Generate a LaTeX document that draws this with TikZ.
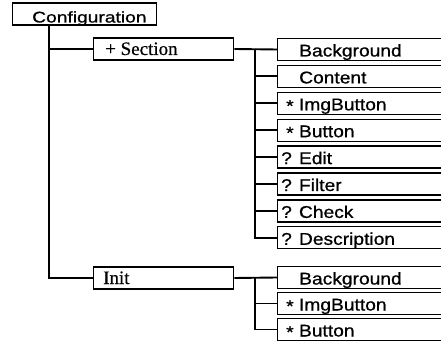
\documentclass[tikz,border=0pt]{standalone}
\usepackage{fontspec}
\setmainfont{Liberation Serif}[FakeBold=0.5]
\newfontfamily\kidfont[FakeStretch=1.13,FakeBold=0.8]{Liberation Sans}
\newfontfamily\conffont[FakeStretch=1.24,FakeBold=0.8]{Liberation Sans}
\newcommand{\bul}{\raisebox{-1.5pt}{*}}
\tikzset{
  box/.style={draw, line width=1.3pt, inner sep=0pt, anchor=west,
              minimum height=22pt},
  topbox/.style={box, minimum width=144pt},
  midbox/.style={box, minimum width=140pt},
  kid/.style={box, minimum width=190pt},
  conn/.style={line width=1.9pt},
  kidlab/.style={anchor=base west, inner sep=0pt,
                 font=\kidfont\fontsize{17}{19}\selectfont},
  serlab/.style={anchor=base west, inner sep=0pt,
                 font=\fontsize{19}{21}\selectfont},
  conflab/.style={anchor=base west, inner sep=0pt,
                  font=\conffont\fontsize{15.5}{18}\selectfont},
}
\begin{document}
\begin{tikzpicture}[x=1pt, y=-1pt]
\useasboundingbox (0,0) rectangle (441,344);
\clip (0,0) rectangle (441,344);

% root
\node[topbox] (conf) at (12,14) {};
\node[conflab] at ([xshift=20pt,yshift=-8.5pt]conf.west) {Configuration};

% second level
\node[midbox] (sec) at (93,49) {};
\node[serlab] at ([xshift=12pt,yshift=-6pt]sec.west) {+ Section};
\node[midbox] (init) at (93,278) {};
\node[serlab] at ([xshift=10pt,yshift=-6pt]init.west) {Init};

% children of Section
\node[kid] (s1) at (277,49.5) {};
\node[kid] (s2) at (277,76.4) {};
\node[kid] (s3) at (277,103.3) {};
\node[kid] (s4) at (277,130.2) {};
\node[kid] (s5) at (277,157.1) {};
\node[kid] (s6) at (277,184) {};
\node[kid] (s7) at (277,210.9) {};
\node[kid] (s8) at (277,237.8) {};
\node[kidlab] at ([xshift=22pt,yshift=-7pt]s1.west) {Background};
\node[kidlab] at ([xshift=22pt,yshift=-7pt]s2.west) {Content};
\node[kidlab] at ([xshift=9pt,yshift=-7pt]s3.west) {\bul\ ImgButton};
\node[kidlab] at ([xshift=9pt,yshift=-7pt]s4.west) {\bul\ Button};
\node[kidlab] at ([xshift=4pt,yshift=-7pt]s5.west) {? Edit};
\node[kidlab] at ([xshift=4pt,yshift=-7pt]s6.west) {? Filter};
\node[kidlab] at ([xshift=4pt,yshift=-7pt]s7.west) {? Check};
\node[kidlab] at ([xshift=4pt,yshift=-7pt]s8.west) {? Description};

% children of Init
\node[kid] (i1) at (277,277.5) {};
\node[kid] (i2) at (277,303.5) {};
\node[kid] (i3) at (277,329.5) {};
\node[kidlab] at ([xshift=22pt,yshift=-7pt]i1.west) {Background};
\node[kidlab] at ([xshift=9pt,yshift=-7pt]i2.west) {\bul\ ImgButton};
\node[kidlab] at ([xshift=9pt,yshift=-7pt]i3.west) {\bul\ Button};

% connectors: root trunk
\coordinate (rt) at ([xshift=37pt]conf.south west);
\draw[conn] (rt) |- (sec.west);
\draw[conn] (rt) |- (init.west);

% connectors: Section subtree
\coordinate (st) at ([xshift=21pt]sec.east);
\draw[conn] (sec.east) -- (s1.west);
\foreach \k in {s2,s3,s4,s5,s6,s7,s8} \draw[conn] (st) |- (\k.west);

% connectors: Init subtree
\coordinate (it) at ([xshift=21pt]init.east);
\draw[conn] (init.east) -- (i1.west);
\foreach \k in {i2,i3} \draw[conn] (it) |- (\k.west);
\end{tikzpicture}
\end{document}
